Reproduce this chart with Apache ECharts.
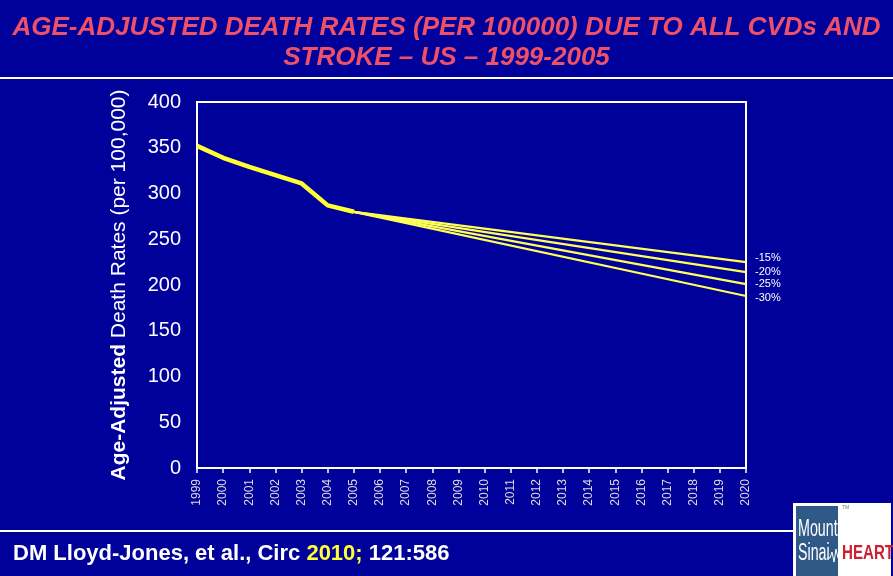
<!DOCTYPE html>
<html>
<head>
<meta charset="utf-8">
<script src="https://cdn.jsdelivr.net/npm/echarts@6/dist/echarts.min.js"></script>
<style>
html,body{margin:0;padding:0;background:#00009a;}
#c{width:893px;height:576px;}
</style>
</head>
<body>
<div id="c"></div>
<script>
// ---- data ----
var years = ['1999','2000','2001','2002','2003','2004','2005','2006','2007','2008','2009','2010','2011','2012','2013','2014','2015','2016','2017','2018','2019','2020'];
var observedYears = ['1999','2000','2001','2002','2003','2004','2005'];
var observedValues = [352, 339, 329, 320, 311, 287, 280];
var projectionStartYear = '2005';
var projectionEndYear = '2020';
var projectionLabels = ['-15%', '-20%', '-25%', '-30%'];
var projectionStart = [280, 280, 280, 280];
var projectionEnd = [225, 214, 201, 188];
var yTicks = [0, 50, 100, 150, 200, 250, 300, 350, 400];

// ---- build series ----
function seriesFor(pairsYears, pairsVals) {
  var arr = years.map(function(){ return null; });
  pairsYears.forEach(function(y, i){ arr[years.indexOf(y)] = pairsVals[i]; });
  return arr;
}
var FONT = 'Arial, Liberation Sans, sans-serif';
var labelOffsets = [[0,-4],[0,0],[0,0],[0,2]];
var series = projectionLabels.map(function(lbl, i){
  return {
    type: 'line',
    name: lbl,
    data: seriesFor([projectionStartYear, projectionEndYear], [projectionStart[i], projectionEnd[i]]),
    connectNulls: true,
    showSymbol: false,
    symbol: 'none',
    silent: true,
    z: 2,
    lineStyle: { color: '#ffff55', width: 2.2 },
    endLabel: {
      show: true,
      formatter: lbl,
      color: '#ffffff',
      fontFamily: FONT,
      fontSize: 11,
      distance: 9,
      offset: labelOffsets[i]
    }
  };
});
series.push({
  type: 'line',
  name: 'observed',
  data: seriesFor(observedYears, observedValues),
  showSymbol: false,
  symbol: 'none',
  silent: true,
  z: 3,
  lineStyle: { color: '#ffff33', width: 4.5 }
});

var chart = echarts.init(document.getElementById('c'), null, {renderer: 'canvas'});
chart.setOption({
  backgroundColor: '#00009a',
  animation: false,
  title: {
    text: 'AGE-ADJUSTED DEATH RATES (PER 100000) DUE TO ALL CVDs AND\nSTROKE – US – 1999-2005',
    left: 'center',
    top: 8,
    textStyle: {
      color: '#ee5068',
      fontFamily: FONT,
      fontSize: 26,
      fontWeight: 'bold',
      fontStyle: 'italic',
      lineHeight: 30
    }
  },
  grid: {
    left: 197, right: 147, top: 102, bottom: 108,
    show: true, borderColor: '#ffffff', borderWidth: 2, backgroundColor: 'transparent'
  },
  xAxis: {
    type: 'category',
    data: years,
    boundaryGap: false,
    axisLine: { lineStyle: { color: '#ffffff', width: 2 } },
    axisTick: { show: true, length: 5, lineStyle: { color: '#ffffff', width: 1.5 } },
    axisLabel: {
      rotate: 90,
      interval: 0,
      color: '#dddddd',
      fontFamily: FONT,
      fontSize: 12,
      margin: 11
    },
    splitLine: { show: false }
  },
  yAxis: {
    type: 'value',
    min: yTicks[0],
    max: yTicks[yTicks.length - 1],
    interval: 50,
    axisLine: { show: true, lineStyle: { color: '#ffffff', width: 2 } },
    axisTick: { show: false },
    splitLine: { show: false },
    axisLabel: {
      color: '#ffffff',
      fontFamily: FONT,
      fontSize: 20,
      margin: 16
    },
    name: '{b|Age-Adjusted} Death Rates (per 100,000)',
    nameLocation: 'middle',
    nameRotate: 90,
    nameGap: 67,
    nameTextStyle: {
      color: '#ffffff',
      fontFamily: FONT,
      fontSize: 21,
      rich: {
        b: { color: '#ffffff', fontFamily: FONT, fontSize: 21, fontWeight: 'bold' }
      }
    }
  },
  series: series,
  graphic: [
    { type: 'rect', shape: { x: 0, y: 77, width: 893, height: 2 }, style: { fill: '#ffffff' }, silent: true },
    { type: 'rect', shape: { x: 0, y: 530, width: 793, height: 2 }, style: { fill: '#ffffff' }, silent: true },
    {
      type: 'text', left: 13, top: 543, silent: true,
      style: {
        text: '{w|DM Lloyd-Jones, et al., Circ }{y|2010;}{w| 121:586}',
        rich: {
          w: { fill: '#ffffff', fontFamily: FONT, fontSize: 22, fontWeight: 'bold' },
          y: { fill: '#ffff33', fontFamily: FONT, fontSize: 22, fontWeight: 'bold' }
        }
      }
    },
    // logo
    { type: 'rect', shape: { x: 793, y: 503, width: 98, height: 73 }, style: { fill: '#ffffff' }, silent: true },
    { type: 'rect', shape: { x: 796, y: 506, width: 42, height: 70 }, style: { fill: '#2f5a88' }, silent: true },
    { type: 'text', x: 798, y: 518, scaleX: 0.62, silent: true,
      style: { text: 'Mount', fill: '#ffffff', fontFamily: FONT, fontSize: 23 } },
    { type: 'text', x: 798, y: 542, scaleX: 0.62, silent: true,
      style: { text: 'Sinai', fill: '#ffffff', fontFamily: FONT, fontSize: 23 } },
    { type: 'polyline', silent: true, shape: { points: [[827,558],[830,558],[832,552],[834,562],[836,549],[838,558],[842,558]] },
      style: { stroke: '#ffffff', lineWidth: 1, fill: null } },
    { type: 'text', x: 842, y: 543, scaleX: 0.72, silent: true,
      style: { text: 'HEART', fill: '#cc2030', fontFamily: FONT, fontSize: 21, fontWeight: 'bold' } },
    { type: 'text', x: 842, y: 505, silent: true,
      style: { text: 'TM', fill: '#777777', fontFamily: FONT, fontSize: 5 } }
  ]
});
</script>
</body>
</html>
